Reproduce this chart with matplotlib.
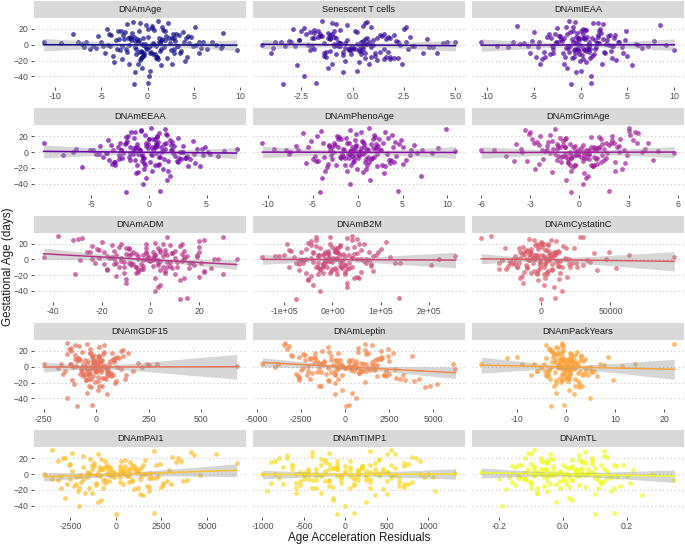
import numpy as np
import matplotlib.pyplot as plt
from matplotlib.patches import Rectangle

plt.rcParams['font.family'] = ['Liberation Sans', 'DejaVu Sans']

# gestational age (days), same samples in every panel
gest_age = [3, 2, -8, -9, 12, 13, 0, 1, -15, -14,
            6, 5, 22, 20, -3, -2, 9, 8, -11, -12,
            1, 0, -5, -4, 17, 16, -19, -18, 4, 4,
            27, 29, -1, -1, -7, -6, 14, 15, -26, -24,
            7, 8, -2, -3, 10, 11, -13, -12, 2, 3,
            -50, -49, 19, 18, -9, -10, 5, 6, -4, -5,
            11, 10, -17, -16, 0, -1, 24, 25, -6, -7,
            8, 7, -22, -21, 3, 4, -12, -11, 15, 14,
            -1, 0, 6, 7, -33, -35, 13, 12, -3, -4,
            1, 2, -10, -9, 20, 21, -7, -8, 4, 3,
            -14, -15, 9, 10, -2, -1, 30, 28, -18, -17,
            2, 1, -5, -6, 16, 17, -40, -30, 0, 0,
            7, 6, -9, -8, 12, 11, -4, -3, 5, 4,
            -24, -25, 18, 19, -1, -2, -11, -10, 10, 9,
            3, 2, -6, -5, -16, -17, 8, 9, 26, 23]

# age acceleration residuals, one list per clock
dnam_age = [-11.2, 2.4, 1.3, -0.9, -2.6, 3.1, 0.4, -0.6, 4.2, -3.7,
            -1.8, 1.5, 5.1, -4.4, 0.2, -0.3, -2.1, 2.8, 3.5, -1.2,
            0.7, -0.5, -6.2, 5.8, 1.9, -2.4, -0.8, 1.1, 6.9, -7.5,
            2.2, -1.6, -4.0, 3.3, 9.6, -0.1, -8.0, 8.1, 1.4, -1.0,
            -3.1, 2.6, 0.9, -1.3, 4.7, -5.3, -0.4, 0.6, -9.3, 3.9,
            -1.5, 0.1, 1.7, -2.9, -0.6, 0.3, 3.0, -3.4, -5.6, 6.4,
            2.0, -1.9, -0.7, 1.0, 7.4, -4.8, 0.5, -0.2, -2.3, 2.5,
            1.2, -1.1, -3.6, 4.0, 5.5, -6.6, 0.8, -0.4, -1.7, 2.7,
            8.0, -2.0, -0.9, 1.6, 0.3, -1.4, -4.1, 3.4, 1.8, -0.2,
            -7.1, 4.5, 2.9, -2.2, 0.0, 0.5, -3.0, 3.6, 6.0, -5.0,
            -0.5, 1.0, 2.3, -1.5, -5.9, 4.9, 1.1, -0.8, -2.7, 2.1,
            0.6, -0.3, -1.2, 1.4, 3.8, -3.2, 0.2, -0.6, 5.2, -4.3,
            -2.5, 1.9, 0.4, -0.7, -3.9, 4.4, 7.9, -6.8, -1.4, 1.2,
            2.6, -2.0, -0.9, 0.7, 3.2, -2.8, -4.6, 5.6, 0.1, -0.5,
            -1.0, 1.3, 2.8, -3.3, -0.6, 0.9, 4.1, -1.8, -2.2, 1.6]

senescent_t = [0.4, -0.6, -1.1, 1.3, 2.0, -2.3, -4.4, 0.2, 1.6, -1.4,
               -0.3, 0.5, 2.6, -2.9, 0.9, -0.7, -1.9, 1.8, 3.4, -0.1,
               -0.9, 1.0, 0.1, -0.4, -2.5, 0.2, 1.2, 1.5, 5.0, -3.8,
               -1.0, 0.7, 2.9, -2.0, -0.2, 0.3, 1.5, -1.2, -2.7, 2.4,
               0.6, -0.8, -3.3, 3.7, 1.7, -1.6, -0.5, 0.4, 4.4, -3.0,
               -3.4, -1.8, -1.9, -0.9, -1.3, 1.1, 2.1, -2.6, 0.0, -0.2,
               1.4, -1.7, 0.6, 0.9, -2.2, 3.0, 0.5, -0.3, 2.7, -2.1,
               -1.2, 1.6, 0.3, -0.4, 4.6, -3.5, -0.8, 0.6, -1.9, -1.0,
               -2.8, 2.3, 1.0, -1.1, 0.2, -0.5, -1.6, -1.1, 3.9, -3.9,
               0.7, -0.6, -1.4, 1.7, 2.5, -2.4, -0.1, 0.4, -0.7, 0.8,
               1.1, -1.3, -2.0, 2.8, 0.5, -0.9, -1.5, 0.6, 1.8, 2.0,
               -0.4, 0.6, 1.5, -1.9, -2.1, 0.1, -2.4, -1.2, 0.9, -0.8,
               3.6, -2.6, -0.5, 0.3, 1.3, -1.5, 0.0, -0.1, -3.1, 2.6,
               0.8, -1.0, -1.7, -0.6, 0.4, -0.6, 4.1, -4.0, -0.9, 1.2,
               2.2, -1.4, -0.2, 0.5, 1.8, 2.2, -1.1, 0.7, -0.8, 0.9]

dnam_ieaa = [-10.6, 1.8, 0.6, -1.2, 3.1, -2.7, 0.9, -0.4, -4.8, 5.0,
             1.5, -2.0, -0.8, 0.3, 4.4, -5.6, -0.2, 1.2, 2.6, -3.3,
             -6.5, 6.1, 0.7, -1.6, 2.0, -1.1, 3.8, -4.1, -0.5, 0.9,
             1.3, -0.6, -2.9, 3.4, 10.0, -0.3, -1.5, 2.2, 5.5, -4.3,
             -0.9, 0.4, 7.2, -7.8, -3.6, 2.9, 0.1, -0.2, 1.7, -2.4,
             -1.0, 1.1, 0.5, -0.8, 2.5, -3.0, -5.2, 4.7, 0.3, -0.6,
             -2.2, 1.9, 3.3, -3.8, 0.8, -1.4, -6.8, 8.5, 1.0, -0.7,
             -1.8, 2.4, 0.6, -0.1, 4.1, -2.6, 1.4, -1.9, -0.4, 0.2,
             -8.9, 3.0, 2.8, -2.1, 0.0, -0.5, -3.4, 3.7, 1.6, -1.3,
             5.9, -6.0, -0.6, 0.9, 2.1, -2.5, 0.4, -0.2, -4.4, 4.0,
             1.2, -1.7, -0.3, 0.7, 3.5, -3.1, -1.2, 1.8, 0.2, -0.9,
             -2.6, 2.7, 0.8, -0.4, -5.0, 4.8, 1.1, -1.5, 9.1, -0.1,
             0.5, -0.2, -3.9, 3.2, 1.9, -2.3, 6.6, -4.6, 7.8, -0.8,
             2.3, -1.8, 0.0, 0.6, -1.1, 0.9, 4.5, -5.4, -0.5, 0.3,
             -7.2, 2.0, 1.5, -2.9, -0.7, 1.0, 3.6, -3.2, 2.4, -1.6]

dnam_eeaa = [1.9, -2.4, -0.5, 3.6, -9.1, 0.8, 2.7, -1.4, -3.2, 4.0,
             0.3, -0.9, 1.6, -1.8, -4.6, 5.3, 0.6, -0.2, 2.4, -3.0,
             -1.2, 1.1, 3.3, -2.6, 0.0, 0.5, -5.8, 4.4, 7.6, -6.3,
             -0.7, 1.4, 2.1, -1.6, -0.4, 0.9, 3.8, -3.5, -1.1, 1.7,
             4.9, -4.2, -0.6, 0.2, 1.3, -2.0, -2.9, 2.5, 0.4, -0.8,
             -2.0, 1.0, 0.7, -1.3, 2.8, -3.4, -0.1, 0.6, -7.4, 6.0,
             1.5, -1.0, -0.3, 0.8, 3.0, -2.2, 0.9, -1.5, -4.0, 3.2,
             2.2, -2.7, 1.2, -0.4, -5.1, 4.6, 0.1, -0.6, 1.8, -1.9,
             -3.7, 2.9, 0.5, -1.1, -0.2, 1.6, 2.0, -2.5, -0.9, 0.3,
             6.5, -3.1, -1.6, 1.3, 0.7, -0.3, -2.3, 2.6, 4.2, -4.8,
             -0.4, 0.9, 1.9, -2.1, -1.4, 0.6, 0.2, -0.7, 3.4, -2.9,
             -0.8, 1.2, 2.3, -1.7, 0.0, 0.4, -0.5, 1.8, -6.6, 5.1,
             1.1, -1.6, -2.6, 3.1, 0.6, -0.2, 4.7, -4.3, -1.3, 1.4,
             0.3, -0.9, 2.5, -2.0, -3.6, 3.9, 1.7, -1.2, -0.1, 0.7,
             -2.4, 2.0, 1.0, -0.6, 0.5, -1.0, 3.0, -3.3, -1.2, 1.5]

dnam_pheno = [2.6, -3.1, -1.4, 0.9, -10.6, 4.2, 0.3, -0.8, 5.0, -5.7,
              -2.2, 1.7, 3.8, -4.5, 0.6, -1.1, 6.3, -6.9, -0.4, 1.3,
              10.9, -2.7, -0.6, 0.2, 2.4, -1.9, -3.4, 3.1, 1.0, -0.3,
              -4.1, 9.9, 0.1, -0.9, 1.6, -2.0, -5.2, 4.8, 2.9, -3.6,
              0.7, -0.2, -1.7, 2.2, 4.6, -3.9, -0.5, 0.8, -8.0, 7.2,
              -4.2, 4.5, 1.9, -1.3, -2.8, 3.5, 0.4, -0.6, 5.8, -4.7,
              -1.0, 1.5, 2.7, -2.4, 0.2, -0.7, -6.1, 3.0, 1.2, -1.8,
              -3.2, 3.9, 0.9, -0.1, -1.5, 2.0, 4.0, -4.4, -0.3, 0.5,
              8.3, -7.5, 2.1, -2.9, -4.0, 1.4, 0.6, -1.2, 3.3, -3.0,
              -0.8, 1.1, 5.4, -5.0, -2.3, 1.8, 0.0, -0.4, -1.6, 2.5,
              3.6, -3.3, -0.2, 0.7, -7.7, 6.6, 1.3, -0.9, 2.2, -1.4,
              -0.5, 0.3, 4.3, -3.8, 1.7, -2.2, -0.9, 7.1, 0.8, -0.6,
              -5.5, 5.1, 1.5, -1.0, -2.6, 2.8, 0.2, -0.3, 9.0, -9.3,
              -1.2, 0.6, 3.4, -2.1, 0.5, -0.8, -4.6, 3.7, 2.0, -2.5,
              -6.6, 6.0, 1.8, -1.6, -0.7, 1.0, 2.3, -3.2, 0.4, -0.2]

dnam_grim = [-6.0, 1.0, 0.4, -0.7, 1.6, -1.9, 0.2, -0.3, -2.5, 2.8,
             -0.9, 1.2, 3.1, -2.4, 0.6, -0.1, 1.8, -1.3, -3.2, 2.2,
             0.5, -0.6, -1.0, 1.4, 2.5, -2.9, -0.4, 0.8, 4.0, -3.6,
             3.0, -1.5, -0.2, 5.8, 1.1, -0.8, -1.7, 2.0, 0.3, -0.5,
             2.3, -2.0, -0.9, 0.6, -3.9, 3.5, 1.3, -1.1, -0.1, 0.4,
             -0.5, 1.8, 0.7, -1.2, -2.2, 1.5, 0.1, -0.4, 2.9, -4.5,
             1.9, -1.4, -0.6, 0.9, 0.0, -0.2, 3.6, -3.0, -1.1, 1.6,
             -0.3, 0.7, 2.6, -2.7, 0.9, -1.6, -0.7, 0.2, 3.3, -1.0,
             -1.8, 2.4, 1.2, -0.9, 0.4, -0.8, -2.6, 2.1, 0.5, -0.2,
             4.8, -5.2, -1.4, 1.0, 2.0, -1.8, -0.5, 0.3, 1.5, -2.3,
             -0.7, 1.1, 0.2, -0.6, -1.5, 1.7, 3.0, -3.3, 0.8, -0.3,
             2.7, -2.1, -0.4, 0.1, 1.3, -0.9, 0.2, 0.5, -3.5, 3.8,
             -1.2, 0.9, 0.6, -0.5, 4.2, -2.8, -0.1, 0.3, 1.0, -1.4,
             2.2, -1.7, -0.8, 1.2, 0.4, -0.6, -4.0, 4.5, 1.4, -1.0,
             -2.0, 0.6, 0.9, -1.3, -0.3, 0.7, 2.4, -2.5, 3.4, -3.1]

dnam_adm = [-44, 10, 8, -6, 4, -9, -15, 14, 22, -18,
            -3, 2, -20, 5, 11, -12, -7, 6, 25, -4,
            1, -2, 16, -14, -24, 20, 30, -31, 5, -5,
            -28, 7, 0, -1, 18, -19, -10, 3, 12, 2,
            -8, 9, 13, -11, -26, 10, 4, -3, -17, 19,
            12, 15, -12, 8, -6, 7, 2, -9, 21, -23,
            -15, -2, 6, -5, 35.5, -29, -32, 22, -4, 3,
            9, -10, 20, -14, 1, -1, -18, 16, -9, -2,
            3, -5, -14, 13, 4, 3, -22, 6, 7, -8,
            26, -21, 11, -13, -2, 2, -8, 1, 15, -16,
            -5, 6, -19, 4, 0, 1, -38, 30, 10, -11,
            -1, 2, 17, -15, -13, 12, 2, -10, 28, -24,
            -6, 7, 5, -3, -21, 14, -9, 8, 19, -18,
            14, -10, -16, 13, -3, 4, 9, -11, -25, 20,
            14, -12, -7, 3, 22, -6, -2, 1, -30, 20]

# DNAmB2M residuals in thousands
dnam_b2m_k = [-145, 40, 15, -20, 60, -55, 5, -10, 85, -70,
              -30, 35, 110, -95, 0, -5, -40, 50, 20, -25,
              10, -15, 70, -60, -35, 45, 25, -30, 255, -120,
              30, -5, -65, 75, 205, -20, 8, 12, -50, 55,
              45, -40, -10, 15, 95, -85, -25, 30, 2, -8,
              -75, 137, 65, -45, 18, -12, -100, 90, 35, -30,
              5, 10, -55, 60, 220, -60, 40, -35, -20, 25,
              12, -18, 50, -45, -80, 85, 0, 5, 30, -25,
              -60, 70, 15, -10, -40, 30, 100, -90, 20, -15,
              -5, 10, -35, 40, 55, -50, 25, -20, -110, 120,
              8, -2, 75, -65, -15, 20, 40, -35, 10, -5,
              -45, 50, 140, -70, 0, 15, -25, 30, 60, -55,
              22, -28, -90, 80, 5, -10, 130, -40, -20, 25,
              45, -50, 15, -5, -70, 65, 35, -30, 10, -15,
              -30, 40, 80, -75, 25, -20, -10, 5, 50, -45]

# DNAmCystatinC residuals in thousands
dnam_cystatin_k = [96, -15, 12, -10, 3, -2, -18, 20, -5, 8,
                   6, -4, 0, 2, 11, 14, 9, -7, 54, -30,
                   -1, 4, -22, 25, 16, -13, 2, -3, 7, -8,
                   -43, 30, -9, 5, 30, -20, 18, -16, -2, 3,
                   -14, 10, 4, -1, 13, -11, 40, -25, -6, 8,
                   0, 10, 5, -4, -17, 15, 1, -2, 22, -19,
                   -8, 6, 14, -12, 47, -28, -5, 7, 3, -1,
                   10, -9, 19, -14, -3, 2, 8, -10, -26, 24,
                   6, -5, -12, 11, 2, 9, -7, 4, 35, -30,
                   -4, 3, 21, -17, 0, 1, -11, 13, 9, -6,
                   -2, 5, 49, -15, 12, -9, -36, 28, 4, -3,
                   17, -10, -6, 8, 1, -2, 15, -13, -20, 18,
                   7, -4, 26, -24, -10, 12, 3, -1, 63, -19,
                   -15, 13, 5, -3, 33, -22, -1, 2, 11, -8,
                   -3, 6, 20, -16, 4, -7, 38, -12, -9, 11]

dnam_gdf15 = [-250, 40, 60, -75, 15, -20, 100, -95, -35, 30,
              5, -10, -130, 120, 45, -50, -15, 20, 80, -60,
              670, -110, -40, 25, 150, -140, -5, 10, 290, -120,
              -100, -45, -70, 55, 0, 5, 130, -100, -25, 15,
              65, -55, -20, 25, -85, 90, 10, -15, 250, -165,
              -90, -20, 40, -30, -160, 145, 20, -10, 5, -5,
              110, -80, -50, 45, 220, -180, -120, 15, -65, 50,
              30, -40, -105, 90, 245, -60, 70, -55, -15, 10,
              -30, 35, 85, -90, -45, 50, 15, -20, 120, -70,
              -10, 5, 55, -35, -120, 130, 25, -30, 60, -45,
              40, -25, -75, 80, 10, -5, -140, 40, 95, -50,
              -5, 20, 175, -150, 35, -30, -140, 10, -55, 45,
              25, -15, -60, 70, 100, -85, 0, 10, 200, -125,
              -35, 30, 75, -65, -20, 15, 50, -40, -100, 85,
              10, -20, -45, 55, 140, -115, -10, 5, -80, -30]

dnam_leptin = [-4700, 1500, 800, -600, -1800, 2400, 300, -200, 3100, -2600,
               -1200, 900, -3300, 2000, 1700, -1500, -800, 400, 2200, 1800,
               500, -300, -2100, 1600, 2700, -2400, 1100, -900, 6100, -3800,
               -3500, 1100, 0, 600, -1400, 1200, 3800, -3100, 4500, -1500,
               -1600, -600, 100, -400, 1900, -1700, -2600, 2300, -200, 500,
               20, 230, -900, 1300, 2500, -2200, -500, 200, 1400, 900,
               -2000, 1800, 3400, -2000, -4000, -1000, 700, -1000, 1000, -800,
               -300, 600, 5200, -600, 1200, -1400, -2700, 2200, -2300, -800,
               800, -500, 1500, -1200, 400, -600, -3000, 2000, 2800, -2500,
               200, -700, 3300, -2800, -1300, 1100, -1600, -1900, 600, -300,
               2900, -400, 1700, -2000, -100, 300, -3400, 1500, 3900, -1000,
               1800, -2100, -600, 900, 1200, -1700, 600, -200, 600, -400,
               2500, -1800, -1100, 800, -2600, 2100, 300, 6250, -1500, 1000,
               4800, -1400, -400, 700, -2400, 1300, -200, -600, 2000, -2300,
               -1300, 1600, 2300, 500, 4200, -2600, -500, 200, -3200, 2400]

dnam_packyears = [-17.3, 2.5, 0.6, -0.9, -10.0, 3.1, 0.2, -0.4, 1.8, -1.3,
                  -2.2, 2.0, -3.5, -3.0, 0.5, 1.5, -0.7, 1.1, 4.5, -3.8,
                  11.5, -1.6, -0.3, 0.8, -2.6, -2.4, -1.0, 0.4, 14.0, -4.6,
                  -0.8, 22.1, 0.1, -0.2, 5.2, -5.9, 1.2, -1.8, 2.7, 3.3,
                  0.9, -0.6, -1.4, 1.7, 3.8, -4.2, 0.3, -0.1, 7.8, -6.5,
                  -3.0, -0.5, 2.2, -1.9, -0.5, 0.7, 1.4, -1.1, -3.5, 2.9,
                  0.6, -0.9, 9.5, -3.2, 0.0, 0.3, -1.7, -2.0, 4.1, -3.6,
                  -1.2, 1.0, 2.7, -2.1, -0.4, 0.5, 6.3, -7.2, 1.9, -0.8,
                  -5.1, 4.8, 0.4, -0.3, -2.0, 1.6, 3.0, -2.6, -0.6, 0.9,
                  1.3, -1.5, -4.0, 3.6, -2.8, -0.7, -2.3, 2.4, 6.9, -9.0,
                  0.2, -0.4, 1.6, -1.2, -3.3, 3.9, -0.9, -4.1, 2.5, -2.0,
                  -0.1, 0.3, 5.0, -4.4, 1.0, -1.3, 4.8, 0.6, -1.6, 2.1,
                  3.4, -2.9, -0.6, 0.7, 8.5, -12.0, 0.1, -0.5, 2.2, -1.7,
                  -2.5, 1.8, 0.9, -0.8, -1.1, 1.5, 3.2, -3.7, -0.2, 0.4,
                  1.7, -1.4, -6.0, 5.6, 0.5, -0.9, 2.9, -2.2, -0.7, -3.2]

dnam_pai1 = [1200, -1500, -600, 900, 2200, -2500, -3970, 400, 1700, -1100,
             -300, 200, 3100, -2800, 700, -900, -1800, 1400, 2600, -2200,
             -100, 500, 1900, -1600, -3200, 3600, 1000, -700, 400, -200,
             -2400, 2100, 600, -400, 3900, -3500, -1200, 800, 1500, -1300,
             -700, 1100, 2300, -2000, 200, -500, -2700, 3000, -100, 300,
             0, 2100, -1400, 1600, 2800, -1900, 500, -800, -2200, 1800,
             900, -1200, -3000, 2500, 100, -300, 4300, -1000, 1300, -600,
             -500, 700, 1800, -2100, -1000, 1200, 400, -600, 3300, 6630,
             -1900, 1600, 800, -1300, -800, -1000, 2400, -2600, 600, -100,
             -1500, 1900, 200, -400, 3400, -2900, -700, 900, 1100, -1600,
             2600, -2300, -300, 500, 1400, -1100, -3500, 4100, -2000, 1200,
             700, -500, 2000, -1800, -600, 300, -2000, -2800, 1600, -1400,
             -900, 1000, 3700, -3200, -1300, 1500, 200, -200, 2900, -2400,
             -1700, 1300, 500, -800, 4600, -3000, -1100, 700, 1000, -600,
             -400, 300, -2500, 2200, 1800, -1500, 300, -900, 5500, -1800]

dnam_timp1 = [150, -250, -400, 500, 300, -200, -1000, 350, 650, -550,
              -100, 50, 800, -700, -300, 400, 200, -150, -600, 750,
              1325, -450, 100, -50, -850, 900, 450, -400, 0, 250,
              -200, 300, 550, -500, -50, 100, 700, -900, 350, -300,
              -650, 600, 250, -350, 0, -100, 700, -750, -450, 500,
              -100, 100, 400, -250, -550, 650, 150, -200, 950, -800,
              -300, 200, 50, -150, 1000, -500, -700, 600, 300, -350,
              200, -100, 1080, -950, 500, -450, 100, -50, -250, 350,
              600, -600, -350, 450, -150, 250, 750, -650, 50, -50,
              -500, 400, 300, -250, 850, -800, -200, 150, 450, -550,
              100, -200, -750, 700, 250, -300, 550, -400, -350, 300,
              0, 150, 650, -500, -100, 50, 0, -150, -850, 900,
              350, -450, -200, 250, 550, -650, 1050, -100, 150, -250,
              -600, 500, 400, -300, -50, 150, -900, 800, 200, -100,
              300, -350, -450, 550, 700, -600, -150, 50, 500, -400]

dnam_tl = [-0.256, 0.08, 0.03, -0.05, 0.12, -0.10, -0.02, 0.01, 0.18, -0.15,
           -0.07, 0.05, 0.14, -0.12, 0.00, 0.02, -0.09, 0.10, 0.21, -0.04,
           0.06, -0.03, -0.13, 0.15, 0.09, -0.07, -0.18, 0.16, 0.04, -0.01,
           -0.11, 0.13, 0.02, -0.04, 0.35, -0.20, 0.07, -0.06, 0.25, -0.08,
           -0.05, 0.03, 0.11, -0.09, -0.16, 0.19, 0.01, -0.02, 0.08, -0.12,
           0.10, 0.16, -0.03, 0.05, 0.13, -0.10, -0.06, 0.04, 0.17, -0.14,
           0.00, 0.03, -0.08, 0.07, 0.28, -0.09, 0.05, -0.04, -0.12, 0.11,
           0.02, -0.03, 0.15, -0.05, -0.01, 0.04, -0.10, 0.12, 0.06, -0.05,
           -0.14, 0.10, 0.08, -0.06, 0.03, -0.02, 0.09, -0.13, 0.20, -0.17,
           -0.04, 0.06, 0.12, -0.11, -0.07, 0.09, 0.01, 0.00, 0.14, -0.08,
           0.05, -0.06, -0.15, 0.17, 0.04, -0.03, -0.09, 0.07, 0.11, -0.10,
           -0.02, 0.04, 0.10, -0.12, -0.05, 0.06, -0.19, 0.02, 0.08, -0.07,
           0.13, -0.11, -0.01, 0.03, 0.16, -0.14, -0.06, 0.05, 0.22, -0.09,
           -0.08, 0.10, 0.03, -0.04, 0.07, -0.05, 0.12, -0.16, -0.03, 0.01,
           0.09, -0.07, -0.12, 0.14, 0.02, -0.01, 0.06, -0.09, -0.10, 0.13]

panel_names = ["DNAmAge", "Senescent T cells", "DNAmIEAA",
               "DNAmEEAA", "DNAmPhenoAge", "DNAmGrimAge",
               "DNAmADM", "DNAmB2M", "DNAmCystatinC",
               "DNAmGDF15", "DNAmLeptin", "DNAmPackYears",
               "DNAmPAI1", "DNAmTIMP1", "DNAmTL"]

panel_x = [dnam_age, senescent_t, dnam_ieaa,
           dnam_eeaa, dnam_pheno, dnam_grim,
           dnam_adm, [v * 1000 for v in dnam_b2m_k], [v * 1000 for v in dnam_cystatin_k],
           dnam_gdf15, dnam_leptin, dnam_packyears,
           dnam_pai1, dnam_timp1, dnam_tl]

x_ticks = [[-10, -5, 0, 5, 10], [-2.5, 0, 2.5, 5], [-10, -5, 0, 5, 10],
           [-5, 0, 5], [-10, -5, 0, 5, 10], [-6, -3, 0, 3, 6],
           [-40, -20, 0, 20], [-1e5, 0, 1e5, 2e5], [0, 50000],
           [-250, 0, 250, 500], [-5000, -2500, 0, 2500, 5000], [-10, 0, 10, 20],
           [-2500, 0, 2500, 5000], [-1000, -500, 0, 500, 1000], [-0.2, 0, 0.2]]

x_tick_labels = [["-10", "-5", "0", "5", "10"], ["-2.5", "0.0", "2.5", "5.0"],
                 ["-10", "-5", "0", "5", "10"], ["-5", "0", "5"],
                 ["-10", "-5", "0", "5", "10"], ["-6", "-3", "0", "3", "6"],
                 ["-40", "-20", "0", "20"], ["-1e+05", "0e+00", "1e+05", "2e+05"],
                 ["0", "50000"], ["-250", "0", "250", "500"],
                 ["-5000", "-2500", "0", "2500", "5000"], ["-10", "0", "10", "20"],
                 ["-2500", "0", "2500", "5000"], ["-1000", "-500", "0", "500", "1000"],
                 ["-0.2", "0.0", "0.2"]]

y_ticks = [-40, -20, 0, 20]

colors = plt.cm.plasma(np.linspace(0, 1, 15))

fig, axes = plt.subplots(5, 3, figsize=(6.85, 5.45), dpi=100, sharey=True)
fig.subplots_adjust(left=0.0496, right=0.9985, top=0.9672, bottom=0.0519,
                    hspace=0.545, wspace=0.031)

y = np.array(gest_age, dtype=float)
y_pad = (y.max() - y.min()) * 0.05

for i, ax in enumerate(axes.flat):
    x = np.array(panel_x[i], dtype=float)
    col = colors[i]

    ax.scatter(x, y, s=12, color=col, alpha=0.7, linewidths=0, zorder=2)

    # linear fit with 95% confidence band
    n = len(x)
    b1, b0 = np.polyfit(x, y, 1)
    xs = np.linspace(x.min(), x.max(), 80)
    fit = b0 + b1 * xs
    resid = y - (b0 + b1 * x)
    s = np.sqrt(np.sum(resid ** 2) / (n - 2))
    se = s * np.sqrt(1 / n + (xs - x.mean()) ** 2 / np.sum((x - x.mean()) ** 2))
    ax.fill_between(xs, fit - 1.976 * se, fit + 1.976 * se, color="#999999",
                    alpha=0.4, linewidth=0, zorder=3)
    ax.plot(xs, fit, color=col, linewidth=1.1, zorder=4)

    x_pad = (x.max() - x.min()) * 0.05
    ax.set_xlim(x.min() - x_pad, x.max() + x_pad)
    ax.set_ylim(y.min() - y_pad, y.max() + y_pad)
    ax.set_xticks(x_ticks[i])
    ax.set_xticklabels(x_tick_labels[i])
    ax.set_yticks(y_ticks)

    for sp in ax.spines.values():
        sp.set_visible(False)
    ax.grid(axis="y", linestyle=(0, (1, 2.5)), color="#c8c8c8", linewidth=0.8)
    ax.grid(axis="x", visible=False)
    ax.set_axisbelow(True)
    ax.tick_params(labelsize=6.3, labelcolor="#4d4d4d", color="#333333",
                   length=2.2, width=0.6, pad=1.5)
    if i % 3 != 0:
        ax.tick_params(axis="y", length=0)

    # facet strip
    ax.add_patch(Rectangle((0, 1), 1, 0.245, transform=ax.transAxes,
                           facecolor="#d9d9d9", edgecolor="none", clip_on=False))
    ax.text(0.5, 1.1225, panel_names[i], transform=ax.transAxes, ha="center",
            va="center", fontsize=6.7, color="#1a1a1a")

fig.text(0.524, 7 / 545, "Age Acceleration Residuals", ha="center", va="center",
         fontsize=8.4, color="#1a1a1a")
fig.text(0.012, 0.51, "Gestational Age (days)", ha="center", va="center",
         rotation=90, fontsize=8.4, color="#1a1a1a")

plt.savefig("out.png", dpi=100)
